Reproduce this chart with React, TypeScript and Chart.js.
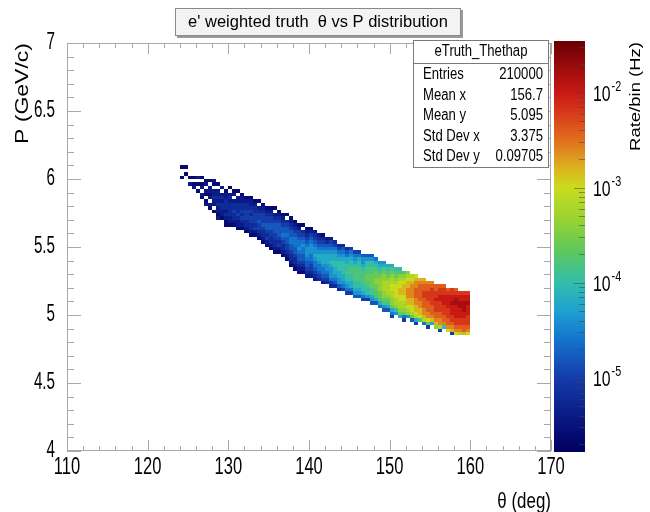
import React, { useEffect, useRef } from "react";
import { Chart, registerables } from "chart.js";
Chart.register(...registerables);

// ---------- text ----------
const TITLE = "e' weighted truth  θ vs P distribution";
const X_TITLE = "θ (deg)";
const Y_TITLE = "P (GeV/c)";
const Z_TITLE = "Rate/bin (Hz)";

// ---------- axes ----------
const xTicks = [110, 120, 130, 140, 150, 160, 170];
const xTickLabels = ["110", "120", "130", "140", "150", "160", "170"];
const yTicks = [4, 4.5, 5, 5.5, 6, 6.5, 7];
const yTickLabels = ["4", "4.5", "5", "5.5", "6", "6.5", "7"];
const zTickExponents = [-5, -4, -3, -2];
const zLog10Min = -5.77;
const zLog10Max = -1.48;

// ---------- stats box ----------
const statsName = "eTruth_Thethap";
const statsLabels = ["Entries", "Mean x", "Mean y", "Std Dev x", "Std Dev y"];
const statsValues = ["210000", "156.7", "5.095", "3.375", "0.09705"];

// ---------- histogram cells ----------
// theta bins of 0.5 deg starting at 124 deg; P bins of 0.025 GeV/c.
// Each column: P of the upper edge of its top cell, then cells top->bottom.
// Letters code the rate level (log10 of Hz/bin), '.' = empty bin.
const thetaMin = 124;
const thetaBinWidth = 0.5;
const pBinWidth = 0.025;
const levelCodes = "abcdefghijklmnopqrst";
const levelLog10 = [-5.6, -5.4, -5.2, -5.0, -4.8, -4.6, -4.4, -4.2, -4.0, -3.8, -3.6, -3.4, -3.2, -3.0, -2.8, -2.6, -2.4, -2.2, -2.0, -1.8];

const colTopP = [
  6.1, 6.1, 6.05, 6.025, 6.025, 6.025, 6.0, 6.0, 6.0, 5.975,
  5.95, 5.95, 5.95, 5.925, 5.925, 5.9, 5.9, 5.875, 5.85, 5.85,
  5.825, 5.825, 5.8, 5.8, 5.775, 5.75, 5.75, 5.725, 5.7, 5.675,
  5.675, 5.65, 5.65, 5.625, 5.6, 5.6, 5.575, 5.575, 5.55, 5.525,
  5.525, 5.5, 5.5, 5.475, 5.475, 5.45, 5.45, 5.45, 5.425, 5.4,
  5.4, 5.375, 5.375, 5.35, 5.35, 5.325, 5.325, 5.3, 5.3, 5.275,
  5.275, 5.25, 5.25, 5.225, 5.225, 5.225, 5.2, 5.2, 5.2, 5.175,
  5.175, 5.175,
];

const colCells = [
  "a..a", "a.a", ".a.b", "a.ab", "b.a.a", "a.ab.ba", "ab.ba.ab", "a.bbab.ba", "ba.bbcbb.a", "a.bbcbcbbab",
  "b.bcbccbba", ".abbcccbcbaa", "a.bcbccccbba", "ab.bccdccba", "a.bbcccdcbba", "abbccdcdcba", ".abccdddccba", "abbcdcddccba", "abccdddcdba", "a.bcddeddcba",
  "abcdddedccba", ".abcddeedcdba", "abcddeeddccba", "a.bcdeeeddccba", "abcdeeeedcdba", "abcdeefedccba", "a.cdeefeeddcba", "abcdeeffeedccba", "abcdefffeedccba", "abddeffgfeedcba",
  "a.cdefgffeedcba", "abcdefgggfeedcb", "abdefgggffeddcb", "bcdefgghgffedcb", "bcdefghhgffedc", "acdefghhhgffedb", "bcefghhhggfedc", "bdefghhihgggfdc", "cdfghhiihhgfec", "cdfghiiihhggec",
  "cefghiiiihhgfd", "cefhhiijiihgfd", "dfghiijjiihhfd", "dfghijjjjiihge", "dfhiijjjjiihge", "egghijjjjiihfd", "egiijjkkjjiigd", "egiijjkkkkjjhge", "fhijkkllkkjjhe", "ghijkllllkkjhf",
  "ghjkllmmmllkjge", "hijklmmmmlkjhe", "hjklmmnnmmllkhfd", "ijklmnnnnmmlig", "ijlmnnoonnmmlkh", "jlmnooonnmmlkfd", "lmnoopppoonmlg", "mnoppppoonnmke", "noppqqqppoonmhd", "opqqqqqppoonj",
  "opqqrrqqqppomf", "pqqrrrqqqppnkd", "pqrrrrrqqqpoh", "qqrrsrrrqqpol", "qrrssrrrqqppmd", "qrrsssrrrqqpi", "qrssssrrrqqpn", "rrsstsssrrqpod", "qrsttssssrrqpn", "rssttsssrrqpm",
  "rsstttssrrqqo", "rsstsssrrrqpn",
];

// ---------- palette (style) ----------
const paletteStops: [number, number[]][] = [
  [-5.77, [0, 0, 95]],
  [-5.5, [8, 18, 125]],
  [-5.0, [20, 60, 170]],
  [-4.6, [20, 115, 205]],
  [-4.3, [30, 160, 210]],
  [-4.0, [50, 190, 170]],
  [-3.65, [95, 200, 90]],
  [-3.35, [150, 210, 50]],
  [-3.0, [200, 220, 30]],
  [-2.8, [220, 180, 30]],
  [-2.5, [225, 110, 30]],
  [-2.2, [215, 55, 25]],
  [-2.0, [200, 25, 20]],
  [-1.48, [110, 0, 5]],
];

function paletteColor(lg: number): string {
  if (lg <= paletteStops[0][0]) return `rgb(${paletteStops[0][1].join(",")})`;
  for (let i = 1; i < paletteStops.length; i++) {
    const [v1, c1] = paletteStops[i];
    if (lg <= v1) {
      const [v0, c0] = paletteStops[i - 1];
      const t = (lg - v0) / (v1 - v0);
      const c = c0.map((a, j) => Math.round(a + (c1[j] - a) * t));
      return `rgb(${c.join(",")})`;
    }
  }
  return `rgb(${paletteStops[paletteStops.length - 1][1].join(",")})`;
}

const FONT = '"Liberation Sans", Arial, Helvetica, sans-serif';

function drawText(
  ctx: CanvasRenderingContext2D,
  s: string,
  x: number,
  y: number,
  size: number,
  align: CanvasTextAlign,
  sx: number,
  rot = false
) {
  ctx.save();
  ctx.translate(x, y);
  ctx.scale(sx, 1);
  if (rot) ctx.rotate(-Math.PI / 2);
  ctx.font = `${size}px ${FONT}`;
  ctx.textAlign = align;
  ctx.textBaseline = "middle";
  ctx.fillStyle = "#000";
  ctx.fillText(s, 0, 0);
  ctx.restore();
}

function buildCells() {
  const out: { x: number; y: number; v: number }[] = [];
  colCells.forEach((s, k) => {
    for (let i = 0; i < s.length; i++) {
      const c = s[i];
      if (c === ".") continue;
      const lv = levelCodes.indexOf(c);
      out.push({
        x: thetaMin + thetaBinWidth * (k + 0.5),
        y: colTopP[k] - pBinWidth * (i + 0.5),
        v: Math.pow(10, levelLog10[lv]),
      });
    }
  });
  return out;
}

const histPlugin = {
  id: "histPlugin",
  beforeDatasetsDraw(chart: any) {
    const ctx: CanvasRenderingContext2D = chart.ctx;
    const xs = chart.scales.x;
    const ys = chart.scales.y;
    const ca = chart.chartArea;
    ctx.save();
    ctx.beginPath();
    ctx.rect(ca.left, ca.top, ca.right - ca.left, ca.bottom - ca.top);
    ctx.clip();
    for (const d of chart.data.datasets[0].data) {
      const x0 = xs.getPixelForValue(d.x - thetaBinWidth / 2);
      const x1 = xs.getPixelForValue(d.x + thetaBinWidth / 2);
      const y0 = ys.getPixelForValue(d.y + pBinWidth / 2);
      const y1 = ys.getPixelForValue(d.y - pBinWidth / 2);
      ctx.fillStyle = paletteColor(Math.log10(d.v));
      const fx = Math.round(x0), fy = Math.round(y0);
      ctx.fillRect(fx, fy, Math.round(x1) - fx, Math.round(y1) - fy);
    }
    ctx.restore();
  },
  afterDraw(chart: any) {
    const ctx: CanvasRenderingContext2D = chart.ctx;
    const xs = chart.scales.x;
    const ys = chart.scales.y;
    const zs = chart.scales.colz;
    const ca = chart.chartArea;
    const L = ca.left, R = ca.right, T = ca.top, B = ca.bottom;

    // frame
    ctx.save();
    ctx.strokeStyle = "#a8a8a8";
    ctx.lineWidth = 1;
    ctx.strokeRect(L + 0.5, T + 0.5, R - L - 1, B - T - 1);
    ctx.beginPath();
    for (let v = 110; v <= 170.001; v += 2) {
      const px = Math.round(xs.getPixelForValue(v)) + 0.5;
      const major = Math.abs(v % 10) < 1e-6;
      const len = major ? 11 : 5;
      ctx.moveTo(px, B);
      ctx.lineTo(px, B - len);
      ctx.moveTo(px, T);
      ctx.lineTo(px, T + len);
    }
    for (let i = 0; i <= 30; i++) {
      const v = 4 + i * 0.1;
      const py = Math.round(ys.getPixelForValue(v)) + 0.5;
      const len = i % 5 === 0 ? 14 : 7;
      ctx.moveTo(L, py);
      ctx.lineTo(L + len, py);
      ctx.moveTo(R, py);
      ctx.lineTo(R - len, py);
    }
    ctx.stroke();
    ctx.restore();

    // tick labels
    xTicks.forEach((v, i) => drawText(ctx, xTickLabels[i], xs.getPixelForValue(v), 468, 23, "center", 0.72));
    yTicks.forEach((v, i) => drawText(ctx, yTickLabels[i], 55, ys.getPixelForValue(v), 23, "right", 0.66));

    // axis titles
    drawText(ctx, X_TITLE, R, 502, 22, "right", 0.77);
    drawText(ctx, Y_TITLE, 23, T, 23, "right", 0.78, true);

    // colour bar
    const cbL = 554, cbW = 31;
    const zTop = Math.round(zs.top), zBot = Math.round(zs.bottom);
    for (let py = zTop - 2; py < zBot + 1; py++) {
      const v = zs.getValueForPixel(py + 0.5);
      ctx.fillStyle = paletteColor(Math.log10(v));
      ctx.fillRect(cbL, py, cbW, 1);
    }
    ctx.save();
    ctx.strokeStyle = "rgba(70,70,70,0.55)";
    ctx.lineWidth = 1;
    ctx.beginPath();
    for (let e = -6; e <= -1; e++) {
      for (let m = 1; m <= 9; m++) {
        const lg = e + Math.log10(m);
        if (lg < zLog10Min || lg > zLog10Max) continue;
        const py = Math.round(zs.getPixelForValue(m * Math.pow(10, e))) + 0.5;
        const len = m === 1 ? 11 : 6;
        ctx.moveTo(cbL + cbW, py);
        ctx.lineTo(cbL + cbW - len, py);
      }
    }
    ctx.stroke();
    ctx.restore();
    zTickExponents.forEach((e) => {
      const py = zs.getPixelForValue(Math.pow(10, e)) + 2;
      drawText(ctx, "10", 593, py, 22, "left", 0.72);
      ctx.save();
      ctx.font = `22px ${FONT}`;
      const w = ctx.measureText("10").width * 0.72;
      ctx.restore();
      drawText(ctx, String(e), 593 + w + 1, py - 8, 15, "left", 0.72);
    });
    drawText(ctx, Z_TITLE, 636, T - 1, 18.5, "right", 0.78, true);

    // stats box
    ctx.save();
    ctx.fillStyle = "#fff";
    ctx.fillRect(413, 40, 136, 128);
    ctx.strokeStyle = "#7a7a7a";
    ctx.lineWidth = 1;
    ctx.strokeRect(413.5, 40.5, 135, 127);
    ctx.beginPath();
    ctx.moveTo(413.5, 63.5);
    ctx.lineTo(548.5, 63.5);
    ctx.stroke();
    ctx.restore();
    drawText(ctx, statsName, 481, 52, 16, "center", 0.82);
    statsLabels.forEach((s, i) => {
      const y = 75 + i * 20.5;
      drawText(ctx, s, 423, y, 16, "left", 0.82);
      drawText(ctx, statsValues[i], 543, y, 16, "right", 0.82);
    });

    // title box
    ctx.save();
    ctx.fillStyle = "#9a9a9a";
    ctx.fillRect(177, 10, 286, 28);
    ctx.fillStyle = "#f3f3f3";
    ctx.fillRect(175, 8, 286, 28);
    ctx.strokeStyle = "#8a8a8a";
    ctx.lineWidth = 1;
    ctx.strokeRect(175.5, 8.5, 285, 27);
    ctx.restore();
    drawText(ctx, TITLE, 318, 22, 17, "center", 0.97);
  },
};

export default function App() {
  const ref = useRef<HTMLCanvasElement | null>(null);
  useEffect(() => {
    if (!ref.current) return;
    const chart = new Chart(ref.current, {
      type: "scatter",
      data: {
        datasets: [
          {
            data: buildCells(),
            pointRadius: 0,
            pointHoverRadius: 0,
            showLine: false,
          } as any,
        ],
      },
      options: {
        animation: false,
        responsive: false,
        devicePixelRatio: 1,
        events: [],
        layout: { padding: { left: 67, right: 99, top: 43, bottom: 61 } },
        plugins: { legend: { display: false }, tooltip: { enabled: false } },
        scales: {
          x: { type: "linear", min: 110, max: 170, display: false },
          y: { type: "linear", min: 4, max: 7, display: false },
          colz: {
            type: "logarithmic",
            axis: "y",
            position: "right",
            min: Math.pow(10, zLog10Min),
            max: Math.pow(10, zLog10Max),
            display: false,
          },
        } as any,
      },
      plugins: [histPlugin],
    });
    return () => chart.destroy();
  }, []);
  return (
    <div style={{ position: "absolute", left: 0, top: 0, width: 650, height: 512, background: "#fff" }}>
      <canvas ref={ref} width={650} height={512} />
    </div>
  );
}
